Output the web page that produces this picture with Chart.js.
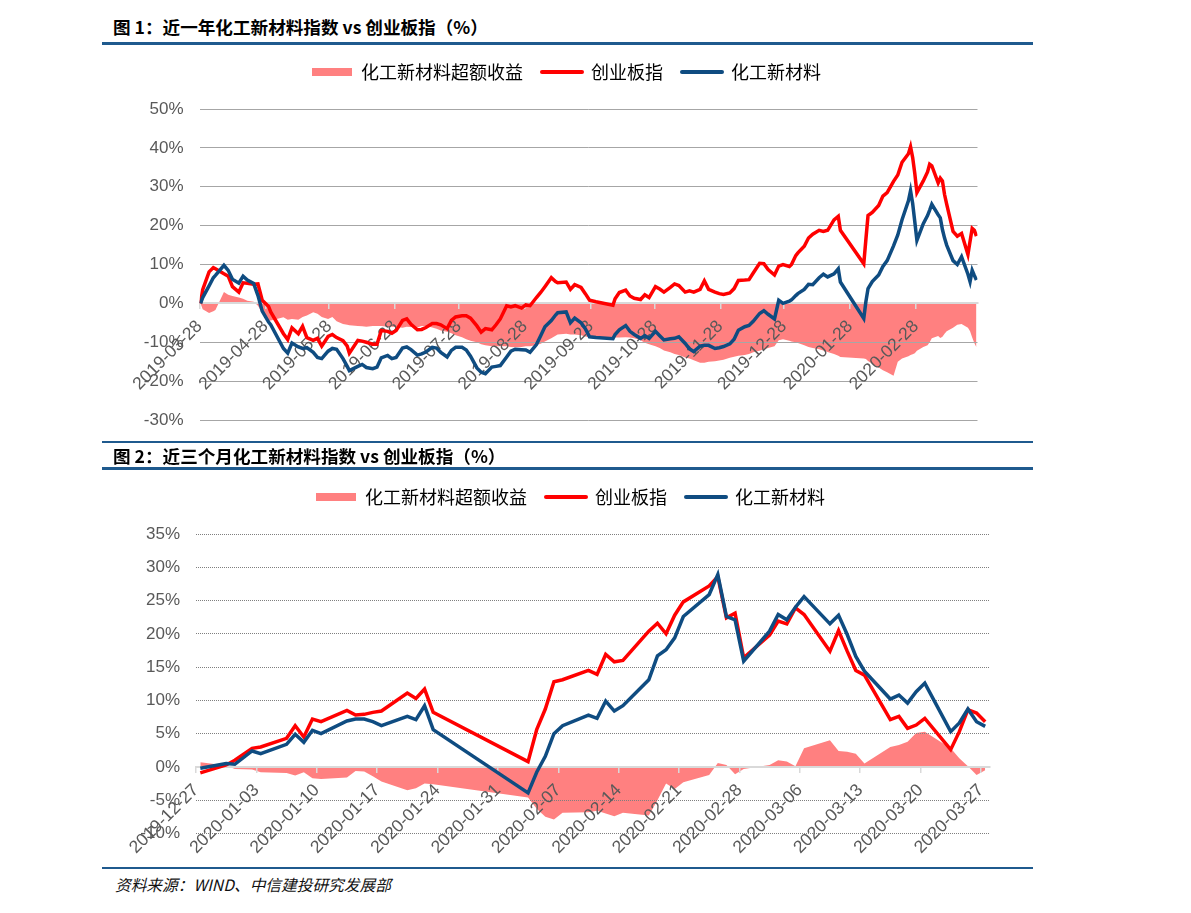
<!DOCTYPE html>
<html lang="zh-CN">
<head>
<meta charset="utf-8">
<title>化工新材料指数 vs 创业板指</title>
<script src="https://cdn.jsdelivr.net/npm/chart.js@4.4.1/dist/chart.umd.min.js"></script>
<style>
  body {
    margin: 0;
    width: 1191px;
    height: 913px;
    position: relative;
    overflow: hidden;
    background: #fff;
    font-family: "Noto Sans CJK SC", "Liberation Sans", sans-serif;
  }
  .title {
    position: absolute;
    left: 113px;
    font-size: 17.6px;
    line-height: 18px;
    font-weight: bold;
    color: #000;
    white-space: nowrap;
    z-index: 2;
  }
  .rule {
    position: absolute;
    left: 102px;
    width: 931px;
    background: #1f5a8e;
    z-index: 2;
  }
  canvas {
    position: absolute;
    left: 100px;
  }
  .source {
    position: absolute;
    left: 115px;
    top: 877px;
    font-size: 15.7px;
    line-height: 16px;
    font-style: italic;
    color: #111;
    white-space: nowrap;
  }
</style>
</head>
<body>
<div class="title" style="top:18px">图 1：近一年化工新材料指数 vs 创业板指（%）</div>
<div class="rule" style="top:42px;height:3px"></div>
<canvas id="chart1" width="935" height="410" style="top:40px"></canvas>

<div class="rule" style="top:441px;height:2px"></div>
<div class="title" style="top:447px">图 2：近三个月化工新材料指数 vs 创业板指（%）</div>
<div class="rule" style="top:467px;height:3px"></div>
<canvas id="chart2" width="935" height="403" style="top:465px"></canvas>

<div class="rule" style="top:867px;height:2px"></div>
<div class="source">资料来源：WIND、中信建投研究发展部</div>

<script>
// ---- 图1：近一年 ----
const dates1 = [
  "2019-03-28","2019-03-29",
  "2019-04-01","2019-04-03","2019-04-04","2019-04-08","2019-04-10","2019-04-12","2019-04-15","2019-04-17","2019-04-19","2019-04-22","2019-04-24","2019-04-26","2019-04-29","2019-04-30",
  "2019-05-06","2019-05-08","2019-05-10","2019-05-13","2019-05-15","2019-05-17","2019-05-20","2019-05-22","2019-05-24","2019-05-27","2019-05-29","2019-05-31",
  "2019-06-03","2019-06-05","2019-06-06","2019-06-10","2019-06-12","2019-06-14","2019-06-17","2019-06-19","2019-06-21","2019-06-24","2019-06-26","2019-06-28",
  "2019-07-01","2019-07-03","2019-07-05","2019-07-08","2019-07-10","2019-07-12","2019-07-15","2019-07-17","2019-07-19","2019-07-22","2019-07-24","2019-07-26","2019-07-29","2019-07-31",
  "2019-08-02","2019-08-05","2019-08-07","2019-08-09","2019-08-12","2019-08-14","2019-08-16","2019-08-19","2019-08-21","2019-08-23","2019-08-26","2019-08-28","2019-08-30",
  "2019-09-02","2019-09-04","2019-09-06","2019-09-09","2019-09-11","2019-09-12","2019-09-16","2019-09-18","2019-09-20","2019-09-23","2019-09-25","2019-09-27","2019-09-30",
  "2019-10-08","2019-10-09","2019-10-11","2019-10-14","2019-10-16","2019-10-18","2019-10-21","2019-10-23","2019-10-25","2019-10-28","2019-10-30",
  "2019-11-01","2019-11-04","2019-11-06","2019-11-08","2019-11-11","2019-11-13","2019-11-15","2019-11-18","2019-11-20","2019-11-22","2019-11-25","2019-11-27","2019-11-29",
  "2019-12-02","2019-12-04","2019-12-06","2019-12-09","2019-12-11","2019-12-13","2019-12-16","2019-12-18","2019-12-20","2019-12-23","2019-12-25","2019-12-27","2019-12-30","2019-12-31",
  "2020-01-02","2020-01-03","2020-01-06","2020-01-08","2020-01-10","2020-01-13","2020-01-15","2020-01-17","2020-01-20","2020-01-22","2020-01-23",
  "2020-02-03","2020-02-04","2020-02-05","2020-02-07","2020-02-10","2020-02-12","2020-02-14","2020-02-17","2020-02-19","2020-02-21","2020-02-24","2020-02-25","2020-02-26","2020-02-27","2020-02-28",
  "2020-03-02","2020-03-04","2020-03-05","2020-03-06","2020-03-09","2020-03-10","2020-03-11","2020-03-12","2020-03-13","2020-03-16","2020-03-18","2020-03-20","2020-03-23","2020-03-24","2020-03-25","2020-03-26","2020-03-27"
];
// 创业板指
const cyb1 = [
  0, 3.5,
  8.1, 9.2, 8.9, 7.6, 7.0, 4.3, 2.9, 5.3, 5.2, 4.9, 5.0, 0.8, -0.8, -2.2,
  -7.8, -9.3, -6.3, -7.8, -5.9, -8.8, -9.5, -9.0, -11.0, -8.5, -8.0, -8.8,
  -9.6, -11.0, -12.8, -9.5, -9.7, -10.0, -10.5, -10.5, -7.0, -7.2, -7.7, -7.0,
  -4.4, -4.0, -5.4, -6.8, -6.7, -6.2, -5.2, -5.2, -5.5, -6.5, -4.4, -3.5, -3.2, -3.2,
  -3.8, -5.8, -7.4, -6.5, -6.8, -5.5, -4.0, -0.6, -0.9, -0.6, -1.2, -0.4, -0.6,
  1.5, 2.8, 4.3, 6.6, 5.6, 5.3, 5.5, 3.6, 4.8, 4.1, 2.5, 0.8, 0.4,
  -0.5, 1.2, 2.8, 3.4, 1.9, 1.3, 1.0, 2.2, 1.5, 4.3, 3.7,
  2.9, 4.1, 5.0, 4.6, 2.9, 3.2, 2.9, 3.6, 5.8, 3.6, 2.9, 2.5, 2.3,
  2.7, 3.8, 5.9, 6.0, 6.1, 7.8, 10.3, 10.2, 8.7, 7.3, 9.6, 10.0, 9.5, 10.0,
  12.3, 13.0, 14.7, 16.8, 17.8, 18.8, 18.5, 18.8, 21.5, 22.4, 18.8,
  10.2, 16.5, 22.6, 23.4, 25.2, 27.6, 28.5, 31.4, 33.0, 36.3, 38.5, 40.3, 37.5, 33.4, 28.5,
  31.5, 33.8, 35.8, 35.4, 31.0, 32.2, 31.5, 28.0, 25.5, 18.5, 17.3, 18.0, 12.6, 16.0, 19.3, 18.8, 17.3
];
// 化工新材料
const hg1 = [
  0, 1.5,
  4.5, 6.6, 7.2, 9.8, 8.5, 6.2, 5.2, 7.0, 6.0, 5.1, 2.0, -2.0, -4.8, -5.5,
  -11.6, -12.8, -10.2, -11.2, -11.6, -11.4, -12.6, -13.9, -14.2, -12.3, -11.6, -11.8,
  -14.2, -16.2, -17.3, -16.2, -15.7, -16.5, -16.8, -16.4, -14.0, -13.4, -14.2, -13.9,
  -11.5, -11.2, -11.9, -13.3, -13.0, -12.5, -11.3, -11.5, -12.6, -13.8, -12.1, -11.3, -11.3, -12.0,
  -13.6, -16.6, -17.7, -18.1, -16.4, -16.2, -16.0, -13.8, -12.3, -11.8, -11.9, -12.0, -12.6,
  -10.6, -8.3, -6.0, -4.4, -3.0, -2.4, -2.2, -5.0, -3.8, -5.0, -6.5, -8.6, -8.8,
  -9.1, -8.0, -6.8, -5.7, -7.2, -8.0, -9.0, -8.3, -9.0, -7.2, -8.3,
  -9.4, -9.1, -9.0, -8.6, -10.3, -11.7, -12.4, -11.0, -10.8, -10.8, -11.6, -11.4, -11.1,
  -10.4, -9.2, -6.9, -6.0, -5.7, -4.6, -2.6, -1.9, -2.8, -4.0, 0.8, 0.0, 0.6, 0.9,
  2.0, 2.5, 3.6, 4.9, 4.8, 6.6, 7.5, 6.8, 7.6, 8.9, 5.5,
  -3.9, 0.5, 3.8, 5.6, 7.3, 9.5, 11.0, 14.8, 17.6, 21.5, 26.4, 29.0, 25.7, 21.0, 16.2,
  20.5, 22.6, 24.0, 25.5, 22.8, 22.0, 19.0, 16.8, 15.0, 11.0, 10.0, 12.0, 7.5, 5.6, 8.5, 7.2, 6.0
];
// 化工新材料超额收益
const excess1 = [
  0, -1.5,
  -2.5, -2.0, -1.7, 2.9, 2.2, 1.9, 1.5, 1.2, 0.7, 0.4, -0.6, -2.5, -4.5, -4.4,
  -3.6, -4.2, -4.0, -4.2, -3.5, -3.1, -2.3, -2.7, -3.5, -4.0, -3.5, -4.6,
  -5.3, -5.5, -5.6, -5.8, -5.9, -6.0, -5.8, -5.8, -5.8, -6.0, -6.0, -6.1,
  -6.3, -6.0, -6.1, -6.2, -5.8, -5.8, -6.2, -6.5, -7.0, -7.3, -7.7, -8.2, -8.7, -9.2,
  -9.6, -10.0, -10.5, -10.8, -11.0, -11.0, -11.0, -11.0, -11.2, -11.3, -11.2, -11.0, -11.0,
  -10.7, -10.4, -9.8, -9.0, -8.3, -8.0, -7.8, -8.0, -8.0, -8.2, -8.5, -8.7, -8.7,
  -8.8, -8.8, -8.8, -8.7, -8.8, -9.0, -9.5, -10.1, -10.5, -11.0, -11.5,
  -12.1, -12.6, -13.0, -13.3, -13.9, -14.2, -14.6, -15.3, -15.3, -15.0, -14.9, -14.7, -14.5,
  -14.0, -13.7, -13.5, -13.3, -13.0, -12.6, -12.2, -11.8, -11.5, -11.0, -9.5, -9.2, -9.6, -9.8,
  -10.0, -10.2, -10.8, -11.2, -11.5, -11.8, -12.1, -12.5, -13.0, -13.5, -13.8,
  -14.2, -14.3, -14.8, -15.5, -16.5, -17.2, -17.7, -18.6, -15.0, -14.2, -13.6, -13.3, -13.1, -12.8, -12.2,
  -11.2, -10.8, -10.0, -9.0, -8.4, -8.9, -8.6, -7.8, -7.2, -6.3, -5.5, -5.3, -6.3, -7.2, -8.8, -10.2, -11.3
];
const ticks1 = ["2019-03-28","2019-04-28","2019-05-28","2019-06-28","2019-07-28","2019-08-28",
  "2019-09-28","2019-10-28","2019-11-28","2019-12-28","2020-01-28","2020-02-28"];

// ---- 图2：近三个月 ----
const dates2 = [
  "2019-12-27","2019-12-30","2019-12-31",
  "2020-01-02","2020-01-03","2020-01-06","2020-01-07","2020-01-08","2020-01-09","2020-01-10","2020-01-13","2020-01-14","2020-01-15","2020-01-16","2020-01-17","2020-01-20","2020-01-21","2020-01-22","2020-01-23",
  "2020-02-03","2020-02-04","2020-02-05","2020-02-06","2020-02-07","2020-02-10","2020-02-11","2020-02-12","2020-02-13","2020-02-14","2020-02-17","2020-02-18","2020-02-19","2020-02-20","2020-02-21","2020-02-24","2020-02-25","2020-02-26","2020-02-27","2020-02-28",
  "2020-03-02","2020-03-03","2020-03-04","2020-03-05","2020-03-06","2020-03-09","2020-03-10","2020-03-11","2020-03-12","2020-03-13","2020-03-16","2020-03-17","2020-03-18","2020-03-19","2020-03-20","2020-03-23","2020-03-24","2020-03-25","2020-03-26","2020-03-27"
];
const cyb2 = [
  -0.9, 0.3, 1.0,
  2.8, 3.0, 4.3, 6.2, 4.5, 7.2, 6.8, 8.5, 7.8, 7.9, 8.2, 8.4, 11.1, 10.3, 11.7, 8.2,
  0.8, 5.6, 8.7, 12.8, 13.1, 14.5, 13.9, 16.9, 15.8, 16.0, 20.4, 21.6, 20.0, 22.8, 24.8, 27.2, 28.6, 22.4, 23.1, 16.4,
  19.8, 21.9, 21.5, 23.9, 22.9, 17.4, 20.5, 17.4, 14.5, 13.8, 7.1, 7.6, 5.8, 6.3, 7.3, 2.6, 5.3, 8.6, 8.1, 6.8
];
const hg2 = [
  -0.2, 0.5, 0.4,
  2.4, 2.0, 3.4, 4.9, 3.7, 5.5, 5.0, 6.9, 7.2, 7.2, 6.8, 6.2, 7.6, 7.1, 9.2, 5.6,
  -3.9, -0.8, 1.6, 5.0, 6.2, 7.8, 7.3, 9.9, 8.4, 9.2, 13.1, 16.7, 17.6, 19.4, 22.6, 25.9, 28.9, 22.6, 22.1, 15.9,
  20.4, 22.9, 22.1, 24.0, 25.6, 21.5, 22.8, 19.9, 16.6, 14.4, 10.2, 10.8, 9.6, 11.3, 12.6, 5.3, 6.6, 8.7, 6.8, 6.1
];
const excess2 = [
  0.7, 0.2, -0.3,
  -0.4, -0.8, -0.9, -1.3, -0.8, -1.7, -1.8, -1.6, -0.6, -0.7, -1.4, -2.2, -3.5, -3.2, -2.5, -2.6,
  -4.6, -6.3, -7.5, -7.9, -6.9, -6.8, -6.6, -7.0, -7.4, -6.9, -7.3, -5.0, -2.5, -3.3, -2.3, -1.2, 0.6, 0.3, -1.1, -0.3,
  0.3, 1.0, 0.8, 0.1, 2.8, 4.0, 2.4, 2.3, 2.0, 0.5, 3.0, 3.3, 3.8, 5.1, 5.3, 2.8, 1.3, 0.1, -1.2, -0.5
];
const ticks2 = ["2019-12-27","2020-01-03","2020-01-10","2020-01-17","2020-01-24","2020-01-31","2020-02-07",
  "2020-02-14","2020-02-21","2020-02-28","2020-03-06","2020-03-13","2020-03-20","2020-03-27"];

const PINK = "#ff8080";
const RED = "#ff0000";
const BLUE = "#0f4c81";
const TEXT = "#595959";
const LATIN = '"Liberation Sans", Arial, sans-serif';
const CJK = '"Noto Sans CJK SC", sans-serif';

const dayOf = (start, s) => (Date.parse(s) - Date.parse(start)) / 86400000;

// each day is one slot on the axis, a point sits in the middle of its slot
const toPoints = (start, dates, values) =>
  values.map((v, i) => ({ x: dayOf(start, dates[i]) + 0.5, y: v }));

// fixed legend height + horizontal shift so the plot area lines up with the reference
const legendBox = {
  id: "legendBox",
  beforeLayout(chart, args, opts) {
    const lg = chart.legend;
    if (lg && !lg._fixed) {
      const fit = lg.fit;
      lg.fit = function () {
        fit.call(this);
        this.height = opts.height;
      };
      lg._fixed = true;
    }
  },
  afterLayout(chart, args, opts) {
    chart.legend.left += opts.dx;
    chart.legend.right += opts.dx;
  },
};

function drawChart(canvasId, s) {
  const start = s.ticks[0];
  const legendItems = [
    { text: "化工新材料超额收益", fillStyle: PINK, strokeStyle: PINK, lineWidth: 0, pointStyle: "rect", datasetIndex: 0 },
    { text: "创业板指", fillStyle: RED, strokeStyle: RED, lineWidth: 4, lineCap: "round", pointStyle: "line", datasetIndex: 1 },
    { text: "化工新材料", fillStyle: BLUE, strokeStyle: BLUE, lineWidth: 4, lineCap: "round", pointStyle: "line", datasetIndex: 2 },
  ];

  const config = {
    type: "line",
    data: {
      datasets: [
        {
          label: "化工新材料超额收益",
          data: toPoints(start, s.dates, s.excess),
          fill: "origin",
          backgroundColor: PINK,
          borderWidth: 0,
          pointRadius: 0,
          order: 3,
        },
        {
          label: "创业板指",
          data: toPoints(start, s.dates, s.cyb),
          borderColor: RED,
          borderWidth: 3.5,
          pointRadius: 0,
          fill: false,
          order: 2,
        },
        {
          label: "化工新材料",
          data: toPoints(start, s.dates, s.hg),
          borderColor: BLUE,
          borderWidth: 3.5,
          pointRadius: 0,
          fill: false,
          order: 1,
        },
      ],
    },
    options: {
      responsive: false,
      animation: false,
      layout: { padding: s.padding },
      plugins: {
        tooltip: { enabled: false },
        // area goes under the grid and the date labels, lines stay on top
        filler: { drawTime: "beforeDraw" },
        legend: {
          position: "top",
          labels: {
            usePointStyle: true,
            pointStyleWidth: 40,
            boxHeight: 8,
            padding: 19,
            color: "#666",
            font: { family: CJK, size: 18 },
            generateLabels: () => legendItems,
          },
        },
        legendBox: { height: 65, dx: s.legendDx },
      },
      scales: {
        x: {
          type: "linear",
          bounds: "data",
          min: 0,
          max: s.span,
          position: { y: 0 },
          afterBuildTicks: (scale) => {
            scale.ticks = s.ticks.map((t) => ({ value: dayOf(start, t) }));
          },
          ticks: {
            autoSkip: false,
            minRotation: 45,
            maxRotation: 45,
            padding: 8,
            color: TEXT,
            font: { family: LATIN, size: 17.5 },
            callback: (v, i) => s.ticks[i],
          },
          grid: { drawOnChartArea: false, drawTicks: true, tickLength: 5, color: "#d9d9d9", lineWidth: 1.5 },
          border: { display: true, color: "#d9d9d9", width: 2 },
        },
        y: {
          min: s.yMin,
          max: s.yMax,
          afterFit: (scale) => {
            scale.width = s.yWidth;
          },
          ticks: {
            stepSize: s.yStep,
            padding: 16,
            color: TEXT,
            font: { family: LATIN, size: 17 },
            callback: (v) => v + "%",
          },
          grid: { color: s.gridColor, lineWidth: 1, drawTicks: false, borderDash: s.dash },
          border: { display: false, dash: s.dash },
        },
      },
    },
    plugins: [legendBox],
  };

  return new Chart(document.getElementById(canvasId), config);
}

drawChart("chart1", {
  dates: dates1, cyb: cyb1, hg: hg1, excess: excess1, ticks: ticks1,
  span: 366, yMin: -30, yMax: 50, yStep: 10, yWidth: 99.5,
  padding: { top: 4, left: 0, right: 57.5, bottom: 30 },
  legendDx: 27.75, gridColor: "#a6a6a6", dash: [],
});

drawChart("chart2", {
  dates: dates2, cyb: cyb2, hg: hg2, excess: excess2, ticks: ticks2,
  span: 92, yMin: -10, yMax: 35, yStep: 5, yWidth: 96,
  padding: { top: 4, left: 0, right: 45.5, bottom: 34.5 },
  legendDx: 25.75, gridColor: "#7f7f7f", dash: [1, 1],
});
</script>
</body>
</html>
